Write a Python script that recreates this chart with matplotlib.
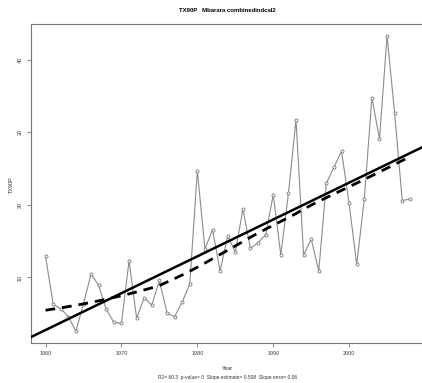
import numpy as np
import matplotlib
matplotlib.use("Agg")
import matplotlib.pyplot as plt

years = list(range(1960, 2009))
tx90p = [12.9, 6.3, 5.7, 4.6, 2.6, 6.4, 10.5, 8.9, 5.6, 3.8,
         3.7, 12.3, 4.4, 7.2, 6.2, 9.6, 5.1, 4.6, 6.6, 9.1,
         24.7, 13.9, 16.6, 10.9, 15.7, 13.5, 19.4, 14.0, 14.8, 15.9,
         21.4, 13.1, 21.6, 31.7, 13.1, 15.3, 10.9, 23.0, 25.2, 27.4,
         20.2, 11.8, 20.8, 34.8, 29.1, 43.3, 32.6, 20.6, 20.8]
xticks = [1960, 1970, 1980, 1990, 2000]
yticks = [10, 20, 30, 40]
title = "TX90P   Mbarara combinedindcal2"
subtitle = "R2= 60.3  p-value= 0  Slope estimate= 0.508  Slope error= 0.06"

x = np.array(years, dtype=float)
y = np.array(tx90p, dtype=float)


def lowess(x, y, f=2/3, it=3):
    n = len(x)
    ns = max(2, min(n, int(f * n + 1e-7)))
    rw = np.ones(n)
    ys = np.zeros(n)
    for _ in range(it + 1):
        for i in range(n):
            d = np.abs(x - x[i])
            h = np.sort(d)[ns - 1]
            r = d / h
            w = np.where(r < 0.999, (1 - r ** 3) ** 3, 0.0) * rw
            sw = w.sum()
            xm = (w * x).sum() / sw
            ym = (w * y).sum() / sw
            vx = (w * (x - xm) ** 2).sum()
            b = (w * (x - xm) * (y - ym)).sum() / vx if vx > 0 else 0
            ys[i] = ym + b * (x[i] - xm)
        res = y - ys
        cmad = 6 * np.median(np.abs(res))
        u = res / cmad
        rw = np.where(np.abs(u) < 1, (1 - u ** 2) ** 2, 0.0)
    return ys


plt.rcParams['font.family'] = ['Liberation Sans', 'DejaVu Sans']
fig = plt.figure(figsize=(4.22, 3.83), dpi=100)
ax = fig.add_axes([31 / 422, 1 - 343 / 383, 393.4 / 422, (343 - 24) / 383])

xr = x.max() - x.min()
yr = y.max() - y.min()
ax.set_xlim(x.min() - 0.04 * xr, x.max() + 0.04 * xr)
ax.set_ylim(y.min() - 0.04 * yr, y.max() + 0.04 * yr)

ax.plot(x, y, color='#8c8c8c', lw=0.8, marker='o', ms=2.2, mfc='white',
        mec='#777777', mew=0.6, zorder=2)

b, a = np.polyfit(x, y, 1)
xx = np.array(ax.get_xlim())
ax.plot(xx, a + b * xx, color='black', lw=1.8, zorder=3)

ax.plot(x, lowess(x, y), color='black', lw=2.0, ls=(0, (3.5, 2.5)), zorder=3)

for s in ['left', 'bottom', 'top', 'right']:
    ax.spines[s].set_color('#777777')
    ax.spines[s].set_linewidth(0.8)

ax.set_xticks(xticks)
ax.set_yticks(yticks)
ax.set_xticklabels([str(t) for t in xticks], fontsize=4, color='#444444')
ax.set_yticklabels([str(t) for t in yticks], fontsize=4, color='#444444',
                   rotation=90, va='center')
ax.tick_params(axis='both', direction='out', length=3, width=0.6,
               color='#777777', pad=3)

fig.text(227.5 / 422, 1 - 11 / 383, title, ha='center', va='center',
         fontsize=4.3, fontweight='bold')
fig.text(227.5 / 422, 1 - 369 / 383, "Year", ha='center', va='center',
         fontsize=4, color='#333333')
fig.text(227.5 / 422, 1 - 377 / 383, subtitle, ha='center', va='center',
         fontsize=3.5, color='#333333')
fig.text(11 / 422, 1 - 185 / 383, "TX90P", ha='center', va='center',
         rotation=90, fontsize=4, color='#333333')

fig.savefig('out.png', dpi=100)
